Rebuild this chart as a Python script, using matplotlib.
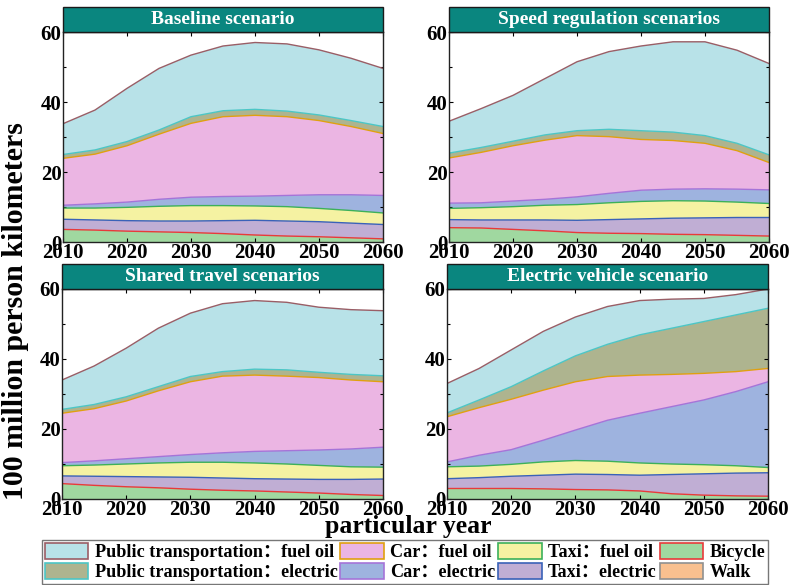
import numpy as np
import matplotlib
matplotlib.use("Agg")
import matplotlib.pyplot as plt
from matplotlib.patches import Rectangle, Patch

plt.rcParams['font.family'] = ['Liberation Serif', 'Noto Sans CJK SC']
plt.rcParams['font.weight'] = 'bold'

years = [2010, 2015, 2020, 2025, 2030, 2035, 2040, 2045, 2050, 2055, 2060]

series_names = [
    "Walk", "Bicycle", "Taxi：electric", "Taxi：fuel oil",
    "Car：electric", "Car：fuel oil",
    "Public transportation：electric", "Public transportation：fuel oil",
]

# Passenger turnover by mode (100 million person-km), bottom of the stack first
baseline = {
    "Walk":            [0, 0, 0, 0, 0, 0, 0, 0, 0, 0, 0],
    "Bicycle":         [3.6, 3.4, 3.1, 2.9, 2.7, 2.4, 2.0, 1.7, 1.5, 1.2, 0.9],
    "Taxi：electric":   [2.9, 2.9, 3.0, 3.1, 3.3, 3.7, 4.2, 4.3, 4.3, 4.2, 4.1],
    "Taxi：fuel oil":   [3.2, 3.4, 3.8, 4.2, 4.4, 4.3, 4.1, 4.1, 3.8, 3.6, 3.3],
    "Car：electric":    [0.8, 1.2, 1.5, 2.0, 2.4, 2.6, 2.8, 3.2, 3.9, 4.5, 5.0],
    "Car：fuel oil":    [13.4, 14.2, 16.1, 18.6, 21.1, 22.8, 23.1, 22.5, 21.2, 19.5, 17.7],
    "Public transportation：electric": [1.1, 1.2, 1.2, 1.2, 1.9, 1.7, 1.7, 1.6, 1.6, 1.7, 2.0],
    "Public transportation：fuel oil": [8.8, 11.4, 15.2, 17.6, 17.6, 18.5, 19.1, 19.2, 18.6, 17.8, 16.6],
}

speed_regulation = {
    "Walk":            [0, 0, 0, 0, 0, 0, 0, 0, 0, 0, 0],
    "Bicycle":         [4.1, 4.0, 3.6, 3.2, 2.7, 2.5, 2.4, 2.2, 2.1, 1.9, 1.7],
    "Taxi：electric":   [2.3, 2.3, 2.7, 3.1, 3.5, 3.9, 4.2, 4.6, 4.8, 5.1, 5.3],
    "Taxi：fuel oil":   [3.2, 3.5, 3.8, 4.2, 4.5, 4.8, 5.0, 5.0, 4.8, 4.4, 4.0],
    "Car：electric":    [1.5, 1.4, 1.6, 1.7, 2.2, 2.7, 3.2, 3.3, 3.5, 3.7, 3.9],
    "Car：fuel oil":    [12.9, 14.4, 15.8, 16.9, 17.5, 16.2, 14.5, 13.9, 13.0, 11.0, 7.8],
    "Public transportation：electric": [1.4, 1.4, 1.3, 1.5, 1.4, 2.1, 2.5, 2.4, 2.2, 2.1, 2.2],
    "Public transportation：fuel oil": [9.1, 11.1, 13.1, 16.1, 19.7, 22.2, 24.2, 25.8, 26.8, 26.6, 26.1],
}

shared_travel = {
    "Walk":            [0, 0, 0, 0, 0, 0, 0, 0, 0, 0, 0],
    "Bicycle":         [4.4, 3.9, 3.5, 3.2, 2.8, 2.5, 2.3, 2.0, 1.7, 1.3, 1.0],
    "Taxi：electric":   [2.2, 2.6, 2.9, 3.1, 3.4, 3.5, 3.5, 3.7, 3.9, 4.3, 4.7],
    "Taxi：fuel oil":   [2.9, 3.2, 3.6, 4.0, 4.3, 4.5, 4.5, 4.3, 4.0, 3.6, 3.4],
    "Car：electric":    [0.9, 1.2, 1.5, 1.8, 2.2, 2.7, 3.3, 3.8, 4.4, 5.1, 5.7],
    "Car：fuel oil":    [14.1, 14.9, 16.5, 18.8, 20.8, 21.9, 21.8, 21.3, 20.7, 19.7, 18.7],
    "Public transportation：electric": [1.1, 1.2, 1.2, 1.2, 1.5, 1.3, 1.7, 1.8, 1.5, 1.6, 1.7],
    "Public transportation：fuel oil": [8.4, 11.0, 13.9, 16.7, 18.1, 19.4, 19.6, 19.3, 18.6, 18.5, 18.6],
}

electric_vehicle = {
    "Walk":            [0, 0, 0, 0, 0, 0, 0, 0, 0, 0, 0],
    "Bicycle":         [3.0, 3.0, 3.0, 2.9, 2.7, 2.6, 2.3, 1.5, 1.1, 0.9, 0.8],
    "Taxi：electric":   [2.8, 3.1, 3.5, 3.9, 4.4, 4.4, 4.5, 5.5, 6.1, 6.5, 6.7],
    "Taxi：fuel oil":   [3.4, 3.3, 3.4, 3.8, 3.9, 3.8, 3.5, 3.0, 2.6, 2.1, 1.5],
    "Car：electric":    [1.4, 3.1, 4.2, 6.2, 8.7, 11.7, 14.2, 16.4, 18.5, 21.2, 24.5],
    "Car：fuel oil":    [12.9, 13.6, 14.4, 14.3, 13.8, 12.5, 10.9, 9.2, 7.6, 5.7, 3.8],
    "Public transportation：electric": [1.1, 2.2, 3.6, 5.5, 7.4, 9.2, 11.5, 13.2, 14.8, 16.2, 17.2],
    "Public transportation：fuel oil": [8.4, 9.0, 10.5, 11.3, 11.1, 10.8, 9.8, 8.3, 6.6, 5.8, 5.5],
}

scenario_titles = ["Baseline scenario", "Speed regulation scenarios",
                   "Shared travel scenarios", "Electric vehicle scenario"]
scenarios = [baseline, speed_regulation, shared_travel, electric_vehicle]

face_colors = {
    "Walk": "#F9C08F",
    "Bicycle": "#A0D8A0",
    "Taxi：electric": "#C0AED4",
    "Taxi：fuel oil": "#F5F2A2",
    "Car：electric": "#9EB3DF",
    "Car：fuel oil": "#EBB5E3",
    "Public transportation：electric": "#AEB48F",
    "Public transportation：fuel oil": "#B8E2E8",
}
edge_colors = {
    "Walk": "#909090",
    "Bicycle": "#E83A3A",
    "Taxi：electric": "#3A62B8",
    "Taxi：fuel oil": "#3CB05A",
    "Car：electric": "#A574D8",
    "Car：fuel oil": "#E0A010",
    "Public transportation：electric": "#4CC6C6",
    "Public transportation：fuel oil": "#9A5E66",
}

W, H = 789, 585
fig = plt.figure(figsize=(W / 100, H / 100), dpi=100)

# panel boxes in pixels: left, top, right, bottom
boxes = [(63, 32, 383, 242), (449, 32, 769, 242),
         (62, 289, 383, 499), (447, 289, 768, 499)]
title_h = 25
teal = "#0A867F"

for (l, t, r, b), data, title in zip(boxes, scenarios, scenario_titles):
    ax = fig.add_axes([l / W, (H - b) / H, (r - l) / W, (b - t) / H])
    x = np.array(years, dtype=float)
    base = np.zeros(len(years))
    for name in series_names:
        vals = np.array(data[name], dtype=float)
        top = base + vals
        ax.fill_between(x, base, top, facecolor=face_colors[name],
                        edgecolor="none", linewidth=0, zorder=1)
        if name != "Walk":
            ax.plot(x, top, color=edge_colors[name], lw=1.0, zorder=2)
        base = top
    ax.set_xlim(2010, 2060)
    ax.set_ylim(0, 60)
    ax.set_xticks([2010, 2020, 2030, 2040, 2050, 2060])
    ax.set_yticks([0, 20, 40, 60])
    ax.set_yticks([10, 30, 50], minor=True)
    ax.tick_params(direction="in", which="both", top=True, right=True,
                   labelsize=15, pad=1, length=3, width=0.8)
    ax.tick_params(which="minor", length=2)
    for lab in ax.get_xticklabels() + ax.get_yticklabels():
        lab.set_fontweight("bold")
    for sp in ax.spines.values():
        sp.set_linewidth(1.0)
        sp.set_color("#222222")
    # scenario header bar above the panel
    hfrac = title_h / (b - t)
    ax.add_patch(Rectangle((0, 1), 1, hfrac, transform=ax.transAxes,
                           facecolor=teal, edgecolor="#1a1a1a", lw=1.0,
                           clip_on=False, zorder=5))
    ax.text(0.5, 1 + hfrac / 2, title, transform=ax.transAxes,
            ha="center", va="center", color="white", fontsize=14,
            fontweight="bold", zorder=6)

fig.text(16 / W, 1 - 311 / H, "100 million person kilometers", rotation=90,
         ha="center", va="center", fontsize=21.5, fontweight="bold")
fig.text(408 / W, 1 - 526 / H, "particular year", ha="center", va="center",
         fontsize=18.5, fontweight="bold")

legend_order = [
    "Public transportation：fuel oil", "Public transportation：electric",
    "Car：fuel oil", "Car：electric",
    "Taxi：fuel oil", "Taxi：electric",
    "Bicycle", "Walk",
]
handles = [Patch(facecolor=face_colors[n], edgecolor=edge_colors[n], lw=1.2,
                 label=n) for n in legend_order]
leg = fig.legend(handles=handles, ncol=4, loc="center",
                 bbox_to_anchor=(405 / W, 1 - 562 / H),
                 prop={"size": 13.1, "weight": "bold"},
                 frameon=True, fancybox=False, edgecolor="#555555",
                 handlelength=2.4, handleheight=1.0, handletextpad=0.35,
                 columnspacing=0.15, borderpad=0.15, labelspacing=0.1,
                 borderaxespad=0)
leg.get_frame().set_linewidth(1.0)

fig.savefig("out.png", dpi=100)
